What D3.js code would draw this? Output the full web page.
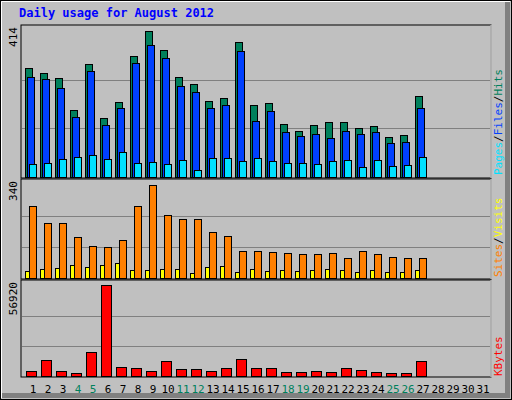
<!DOCTYPE html>
<html><head><meta charset="utf-8">
<script src="https://cdn.jsdelivr.net/npm/d3@7"></script>
<style>body{margin:0;background:#fff}svg{display:block}</style>
</head><body>
<script>
const days = d3.range(1, 32);
const weekend = [4, 5, 11, 12, 18, 19, 25, 26];
const hits = [311,296,280,191,321,169,213,344,414,360,285,263,216,224,385,205,210,152,130,149,155,155,138,144,113,119,230];
const files = [283,278,252,171,302,149,196,324,374,338,258,241,196,205,358,158,188,127,116,121,110,130,121,127,96,99,196];
const pages = [36,41,52,57,63,52,71,41,44,38,49,21,55,55,46,55,46,41,41,38,46,49,27,49,30,33,57];
const visits = [262,200,200,148,115,111,137,262,340,229,214,214,166,152,100,100,96,92,89,89,92,74,100,89,78,74,74];
const sites = [26,33,37,48,41,48,55,30,30,33,33,18,41,44,22,33,26,30,26,30,33,30,22,30,22,22,30];
const kbytes = [3323,10178,3323,2077,15163,56920,5816,5193,3323,9554,4570,4570,3323,5193,10800,5193,5193,2700,2700,3323,2700,5193,3946,2700,2077,2077,9554];

const W = 512, H = 400, L = 21, R = 491;
const font = "DejaVu Sans Mono, monospace";
const svg = d3.select("body").append("svg").attr("width", W).attr("height", H);

// frame
svg.append("rect").attr("x", 0).attr("y", 0).attr("width", W).attr("height", H).attr("fill", "#c0c0c0");
svg.append("rect").attr("x", 505).attr("y", 2).attr("width", 5).attr("height", 396).attr("fill", "#808080");
svg.append("rect").attr("x", 2).attr("y", 393).attr("width", 508).attr("height", 5).attr("fill", "#808080");
svg.append("rect").attr("x", 0.5).attr("y", 0.5).attr("width", W - 1).attr("height", H - 1)
  .attr("fill", "none").attr("stroke", "#000");
svg.append("path").attr("d", "M1.5,398V1.5H510").attr("fill", "none").attr("stroke", "#fff");

svg.append("text").attr("x", 19).attr("y", 17).attr("font-family", font).attr("font-weight", "bold")
  .attr("font-size", 12).attr("fill", "#0000ff").text("Daily usage for August 2012");

const x = d3.scaleBand().domain(days).range([L, L + 465]);

const panels = [
  {top: 25, bottom: 178, max: 414, label: "414"},
  {top: 179, bottom: 279, max: 340, label: "340"},
  {top: 280, bottom: 377, max: 56920, label: "56920"}
];
panels.forEach(p => {
  p.y = d3.scaleLinear().domain([0, p.max]).range([p.bottom - 1, p.top + 4 + (p.bottom - p.top) * 0.015]);
  svg.append("rect").attr("x", L).attr("y", p.top).attr("width", R - L).attr("height", p.bottom - p.top)
    .attr("fill", "#c0c0c0").attr("stroke", "#000");
  svg.append("path").attr("d", `M${R},${p.top}V${p.bottom}`).attr("stroke", "#fff");
  [1/3, 2/3].forEach(f => {
    svg.append("line").attr("x1", L + 1).attr("x2", R - 1)
      .attr("y1", Math.round(p.y(p.max * f)) + 0.5).attr("y2", Math.round(p.y(p.max * f)) + 0.5)
      .attr("stroke", "#808080");
  });
  svg.append("text").attr("transform", `translate(17,${p.top + 2}) rotate(-90)`)
    .attr("text-anchor", "end").attr("font-family", font).attr("font-size", 11).text(p.label);
});

function bars(data, p, dx, w, color) {
  svg.append("g").selectAll("rect").data(data).join("rect")
    .attr("x", (d, i) => x(i + 1) + dx + 0.5)
    .attr("y", d => Math.round(p.y(d)) + 0.5)
    .attr("width", w)
    .attr("height", d => p.bottom - 1 - Math.round(p.y(d)))
    .attr("fill", color).attr("stroke", "#000");
}
bars(hits, panels[0], 4, 7, "#00805c");
bars(files, panels[0], 6, 7, "#0040ff");
bars(pages, panels[0], 8, 7, "#00e0ff");
bars(visits, panels[1], 8, 7, "#ff8000");
bars(sites, panels[1], 4, 4, "#ffff00");
bars(kbytes, panels[2], 5, 10, "#ff0000");

svg.append("g").selectAll("text").data(days).join("text")
  .attr("x", d => x(d) + 12).attr("y", 393).attr("text-anchor", "middle")
  .attr("font-family", font).attr("font-size", 11)
  .attr("fill", d => weekend.includes(d) ? "#00805c" : "#000").text(d => d);

function sideLabel(yBottom, parts) {
  const t = svg.append("text").attr("transform", `translate(502,${yBottom}) rotate(-90)`)
    .attr("font-family", font).attr("font-size", 11);
  parts.forEach(([s, c]) => t.append("tspan").attr("fill", c).text(s));
}
sideLabel(175, [["Pages", "#00e0ff"], ["/", "#000"], ["Files", "#0040ff"], ["/", "#000"], ["Hits", "#00805c"]]);
sideLabel(277, [["Sites", "#ff8000"], ["/", "#000"], ["Visits", "#ffff00"]]);
sideLabel(376, [["KBytes", "#ff0000"]]);
</script>
</body></html>
